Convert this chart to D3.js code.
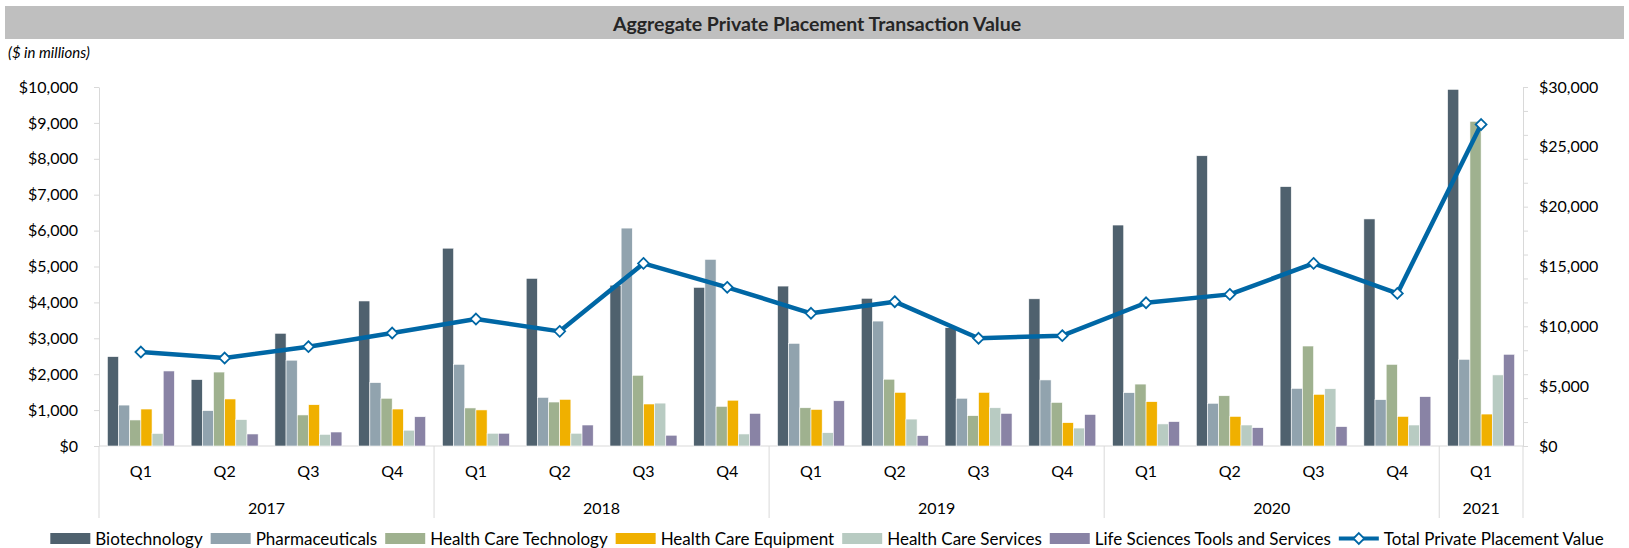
<!DOCTYPE html>
<html>
<head>
<meta charset="utf-8">
<script src="https://cdn.jsdelivr.net/npm/d3@7"></script>
<style>
  body { margin: 0; background: #fff; }
  text { font-family: Lato, "Open Sans", sans-serif; fill: #000; }
</style>
</head>
<body>
<svg id="container" width="1629" height="548"></svg>
<script>
// data ($ in millions)
const years = ['2017', '2018', '2019', '2020', '2021'];
const quartersPerYear = [4, 4, 4, 4, 1];
const quarters = ['Q1', 'Q2', 'Q3', 'Q4', 'Q1', 'Q2', 'Q3', 'Q4', 'Q1', 'Q2', 'Q3', 'Q4',
  'Q1', 'Q2', 'Q3', 'Q4', 'Q1'];

const seriesNames = ['Biotechnology', 'Pharmaceuticals', 'Health Care Technology',
  'Health Care Equipment', 'Health Care Services', 'Life Sciences Tools and Services'];
const seriesColors = ['#4f616e', '#91a3ae', '#9fb18f', '#f0b000', '#b8cbc2', '#8983a5'];

const biotech = [2490, 1850, 3140, 4040, 5510, 4670, 4480, 4420, 4455, 4115, 3295, 4100,
  6155, 8085, 7225, 6325, 9935];
const pharma = [1140, 985, 2390, 1765, 2275, 1355, 6070, 5200, 2860, 3480, 1330, 1840,
  1485, 1190, 1605, 1290, 2415];
const hcTech = [725, 2060, 865, 1330, 1060, 1225, 1970, 1105, 1065, 1860, 845, 1215,
  1725, 1400, 2785, 2275, 9045];
const hcEquip = [1030, 1310, 1150, 1030, 1005, 1300, 1170, 1275, 1020, 1495, 1495, 650,
  1235, 825, 1440, 825, 890];
const hcServices = [350, 735, 325, 440, 355, 355, 1195, 335, 370, 750, 1065, 500,
  615, 585, 1595, 585, 1980];
const lifeSci = [2090, 335, 390, 815, 355, 585, 300, 910, 1260, 290, 910, 880,
  680, 510, 540, 1375, 2555];
const total = [7850, 7350, 8300, 9440, 10610, 9580, 15260, 13260, 11090, 12060, 9000, 9220,
  11970, 12670, 15260, 12750, 26870];

const seriesValues = [biotech, pharma, hcTech, hcEquip, hcServices, lifeSci];

const leftTicks = d3.range(0, 10001, 1000);
const rightTickMarks = d3.range(0, 30001, 2000);
const rightTickLabels = d3.range(0, 30001, 5000);

const svg = d3.select('#container');
const plotLeft = 99, plotRight = 1523, plotTop = 87, plotBottom = 446;
const axisColor = '#d9d9d9';
const money = d => '$' + d3.format(',')(d);

// title band
svg.append('rect')
  .attr('x', 5).attr('y', 6)
  .attr('width', 1619).attr('height', 33)
  .attr('fill', '#bfbfbf');
svg.append('text')
  .attr('x', 817).attr('y', 23)
  .attr('text-anchor', 'middle')
  .attr('dominant-baseline', 'central')
  .style('font-weight', 'bold')
  .style('font-size', '19.5px')
  .style('fill', '#262626')
  .text('Aggregate Private Placement Transaction Value');

svg.append('text')
  .attr('x', 8).attr('y', 52)
  .attr('dominant-baseline', 'central')
  .style('font-style', 'italic')
  .style('font-size', '15px')
  .text('($ in millions)');

// scales
const x0 = d3.scaleBand()
  .domain(d3.range(quarters.length))
  .range([plotLeft, plotRight])
  .paddingInner(0.2)
  .paddingOuter(0.1);

const x1 = d3.scaleBand()
  .domain(d3.range(seriesNames.length))
  .range([0, x0.bandwidth()]);

const y = d3.scaleLinear().domain([0, 10000]).range([plotBottom, plotTop]);
const y2 = d3.scaleLinear().domain([0, 30000]).range([plotBottom, plotTop]);

// left axis
const leftAxis = svg.append('g')
  .attr('transform', `translate(${plotLeft},0)`)
  .call(d3.axisLeft(y).tickValues(leftTicks).tickSize(5).tickSizeOuter(0).tickPadding(16).tickFormat(money));
leftAxis.selectAll('line, path').attr('stroke', axisColor);
leftAxis.selectAll('text').style('font-size', '16px').style('font-family', 'Lato, sans-serif');

// right axis: tick marks every 2000, labels every 5000
const rightMarks = svg.append('g')
  .attr('transform', `translate(${plotRight},0)`)
  .call(d3.axisRight(y2).tickValues(rightTickMarks).tickSize(5).tickSizeOuter(0).tickFormat(''));
rightMarks.selectAll('line, path').attr('stroke', axisColor);

const rightLabels = svg.append('g')
  .attr('transform', `translate(${plotRight},0)`)
  .call(d3.axisRight(y2).tickValues(rightTickLabels).tickSize(0).tickPadding(16).tickFormat(money));
rightLabels.select('.domain').remove();
rightLabels.selectAll('text').style('font-size', '16px').style('font-family', 'Lato, sans-serif');

// category axis
svg.append('line')
  .attr('x1', plotLeft).attr('x2', plotRight)
  .attr('y1', plotBottom).attr('y2', plotBottom)
  .attr('stroke', axisColor);

svg.append('g')
  .selectAll('text')
  .data(quarters)
  .enter()
  .append('text')
  .attr('x', (q, i) => x0(i) + x0.bandwidth() / 2)
  .attr('y', 470)
  .attr('text-anchor', 'middle')
  .attr('dominant-baseline', 'central')
  .style('font-size', '16px')
  .text(q => q);

const yearSpans = [];
let start = 0;
years.forEach((yr, i) => {
  yearSpans.push({ year: yr, from: start, to: start + quartersPerYear[i] });
  start += quartersPerYear[i];
});
const edge = i => plotLeft + i * x0.step();

svg.append('g')
  .selectAll('line')
  .data([0].concat(yearSpans.map(s => s.to)))
  .enter()
  .append('line')
  .attr('x1', edge).attr('x2', edge)
  .attr('y1', plotBottom).attr('y2', 518)
  .attr('stroke', axisColor);

svg.append('g')
  .selectAll('text')
  .data(yearSpans)
  .enter()
  .append('text')
  .attr('x', s => (edge(s.from) + edge(s.to)) / 2)
  .attr('y', 507)
  .attr('text-anchor', 'middle')
  .attr('dominant-baseline', 'central')
  .style('font-size', '16px')
  .text(s => s.year);

// bars
const groups = svg.append('g')
  .selectAll('g')
  .data(quarters.map((q, i) => i))
  .enter()
  .append('g')
  .attr('transform', i => `translate(${x0(i)},0)`);

groups.selectAll('rect')
  .data(i => seriesValues.map((vals, s) => ({ s: s, v: vals[i] })))
  .enter()
  .append('rect')
  .attr('x', d => x1(d.s))
  .attr('y', d => y(d.v))
  .attr('width', x1.bandwidth())
  .attr('height', d => plotBottom - y(d.v))
  .attr('fill', d => seriesColors[d.s])
  .attr('stroke', '#ffffff')
  .attr('stroke-width', 0.6);

// total line on the secondary axis
const lineColor = '#0067a5';
const line = d3.line()
  .x((v, i) => x0(i) + x0.bandwidth() / 2)
  .y(v => y2(v));

svg.append('path')
  .datum(total)
  .attr('d', line)
  .attr('fill', 'none')
  .attr('stroke', lineColor)
  .attr('stroke-width', 4.5)
  .attr('stroke-linejoin', 'round');

const diamond = d3.symbol().type(d3.symbolDiamond2).size(75);
svg.append('g')
  .selectAll('path')
  .data(total)
  .enter()
  .append('path')
  .attr('d', diamond)
  .attr('transform', (v, i) => `translate(${x0(i) + x0.bandwidth() / 2},${y2(v)})`)
  .attr('fill', '#fff')
  .attr('stroke', lineColor)
  .attr('stroke-width', 1.8);

// legend
const legendY = 538.5;
const legend = svg.append('g');
const items = seriesNames.map((n, i) => ({ name: n, color: seriesColors[i], type: 'bar' }))
  .concat([{ name: 'Total Private Placement Value', color: lineColor, type: 'line' }]);

let lx = 0;
items.forEach(item => {
  const g = legend.append('g').attr('transform', `translate(${lx},0)`);
  if (item.type === 'bar') {
    g.append('rect')
      .attr('x', 0).attr('y', legendY - 5.5)
      .attr('width', 40).attr('height', 11)
      .attr('fill', item.color);
  } else {
    g.append('line')
      .attr('x1', 0).attr('x2', 40)
      .attr('y1', legendY).attr('y2', legendY)
      .attr('stroke', item.color).attr('stroke-width', 4);
    g.append('path')
      .attr('d', diamond)
      .attr('transform', `translate(20,${legendY})`)
      .attr('fill', '#fff')
      .attr('stroke', item.color)
      .attr('stroke-width', 1.8);
  }
  const t = g.append('text')
    .attr('x', 45).attr('y', legendY)
    .attr('dominant-baseline', 'central')
    .style('font-size', '17px')
    .text(item.name);
  lx += 45 + t.node().getComputedTextLength() + 8;
});
const legendWidth = lx - 8;
legend.attr('transform', `translate(${827 - legendWidth / 2},0)`);
</script>
</body>
</html>
